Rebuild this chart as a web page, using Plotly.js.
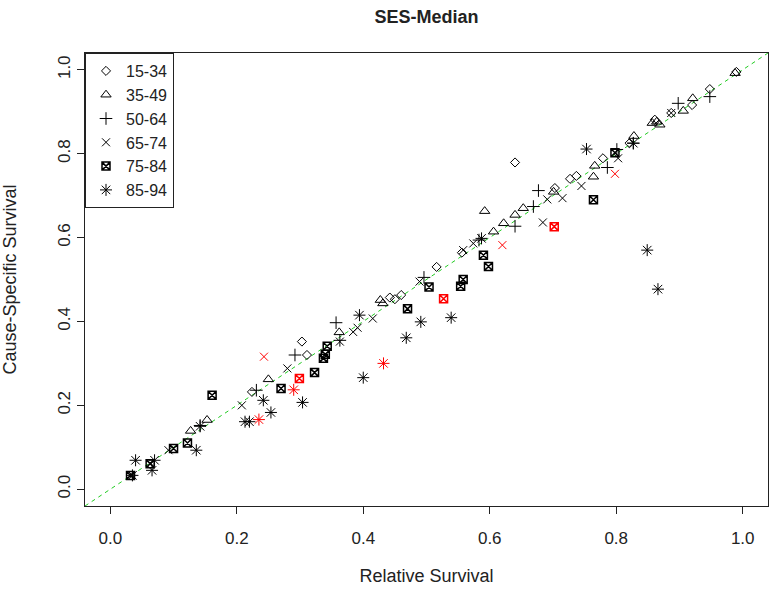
<!DOCTYPE html>
<html><head><meta charset="utf-8">
<script src="https://cdn.plot.ly/plotly-3.0.1.min.js"></script>
<style>html,body{margin:0;padding:0;background:#fff}</style>
</head><body><div id="chart" style="width:769px;height:592px"></div>
<script>
// Age groups (legend labels)
const ageGroups = ["15-34", "35-49", "50-64", "65-74", "75-84", "85-94"];

// Relative survival (x) and cause-specific survival (y) per age group
const rel_15_34 = [0.224, 0.303, 0.311, 0.442, 0.450, 0.460, 0.516, 0.556, 0.640, 0.703, 0.727, 0.737, 0.779, 0.821, 0.861, 0.887, 0.920, 0.948, 0.990];
const css_15_34 = [0.232, 0.352, 0.320, 0.457, 0.453, 0.463, 0.530, 0.564, 0.779, 0.718, 0.740, 0.747, 0.789, 0.825, 0.881, 0.897, 0.916, 0.954, 0.995];

const rel_35_49 = [0.127, 0.153, 0.250, 0.362, 0.427, 0.431, 0.592, 0.606, 0.622, 0.640, 0.653, 0.701, 0.764, 0.766, 0.828, 0.857, 0.864, 0.869, 0.906, 0.921, 0.988];
const css_35_49 = [0.139, 0.165, 0.262, 0.374, 0.451, 0.443, 0.663, 0.614, 0.634, 0.654, 0.670, 0.709, 0.745, 0.771, 0.842, 0.873, 0.876, 0.869, 0.902, 0.932, 0.992];

const rel_50_64 = [0.142, 0.231, 0.292, 0.357, 0.363, 0.496, 0.583, 0.640, 0.669, 0.677, 0.786, 0.801, 0.827, 0.898, 0.948];
const css_50_64 = [0.152, 0.236, 0.320, 0.397, 0.355, 0.505, 0.594, 0.627, 0.674, 0.712, 0.767, 0.810, 0.825, 0.920, 0.936];

const rel_65_74 = [0.092, 0.208, 0.280, 0.363, 0.384, 0.391, 0.415, 0.489, 0.558, 0.574, 0.684, 0.691, 0.715, 0.745, 0.803, 0.887];
const css_65_74 = [0.093, 0.200, 0.288, 0.352, 0.375, 0.385, 0.407, 0.495, 0.570, 0.586, 0.636, 0.691, 0.694, 0.723, 0.789, 0.897];
const rel_65_74_red = [0.243, 0.620, 0.798];
const css_65_74_red = [0.316, 0.582, 0.752];

const rel_75_84 = [0.032, 0.063, 0.100, 0.122, 0.161, 0.270, 0.323, 0.337, 0.340, 0.343, 0.470, 0.504, 0.554, 0.558, 0.590, 0.598, 0.764, 0.798];
const css_75_84 = [0.033, 0.061, 0.097, 0.110, 0.224, 0.240, 0.278, 0.312, 0.322, 0.341, 0.430, 0.482, 0.484, 0.500, 0.558, 0.531, 0.690, 0.802];
const rel_75_84_red = [0.299, 0.527, 0.702];
const css_75_84_red = [0.264, 0.454, 0.626];

const rel_85_94 = [0.035, 0.040, 0.066, 0.070, 0.136, 0.142, 0.213, 0.220, 0.242, 0.254, 0.304, 0.394, 0.400, 0.468, 0.491, 0.539, 0.587, 0.753, 0.827, 0.849, 0.866];
const css_85_94 = [0.033, 0.069, 0.045, 0.069, 0.093, 0.150, 0.161, 0.161, 0.212, 0.183, 0.207, 0.415, 0.266, 0.361, 0.399, 0.409, 0.598, 0.811, 0.825, 0.570, 0.477];
const rel_85_94_red = [0.235, 0.290, 0.432];
const css_85_94_red = [0.166, 0.237, 0.300];

const tickValues = [0, 0.2, 0.4, 0.6, 0.8, 1.0];

const FONT = "Liberation Sans, Arial, sans-serif";

function mk(name, xs, ys, symbol, size, color, showlegend) {
  return {
    type: "scatter", mode: "markers", name: name, legendgroup: name,
    x: xs, y: ys, showlegend: showlegend, hoverinfo: "x+y",
    marker: {symbol: symbol, size: size, color: color, line: {width: 1, color: color}}
  };
}

const traces = [
  mk(ageGroups[0], rel_15_34, css_15_34, "diamond-open", 7, "#000", true),
  mk(ageGroups[1], rel_35_49, css_35_49, "triangle-up-open", 9, "#000", true),
  mk(ageGroups[2], rel_50_64, css_50_64, "cross-thin-open", 9, "#000", true),
  mk(ageGroups[3], rel_65_74, css_65_74, "x-thin-open", 8, "#000", true),
  mk(ageGroups[4], rel_75_84, css_75_84, "square-x-open", 8, "#000", true),
  mk(ageGroups[5], rel_85_94, css_85_94, "asterisk-open", 10, "#000", true),
  mk(ageGroups[3], rel_65_74_red, css_65_74_red, "x-thin-open", 8, "#ff0000", false),
  mk(ageGroups[4], rel_75_84_red, css_75_84_red, "square-x-open", 8, "#ff0000", false),
  mk(ageGroups[5], rel_85_94_red, css_85_94_red, "asterisk-open", 10, "#ff0000", false)
];
traces[4].marker.line.width = 1.5;
traces[7].marker.line.width = 1.5;

const axisCommon = {
  range: [-0.04, 1.04], showgrid: false, zeroline: false,
  showline: true, mirror: true, linecolor: "#222", linewidth: 1,
  ticks: "outside", ticklen: 7, tickwidth: 1, tickcolor: "#222",
  tickvals: tickValues, tickformat: ".1f",
  tickfont: {family: FONT, size: 17, color: "#222"}
};

const layout = {
  width: 769, height: 592,
  margin: {l: 85, r: 1, t: 53, b: 86},
  paper_bgcolor: "#fff", plot_bgcolor: "#fff",
  font: {family: FONT, color: "#222"},
  title: {text: "<b>SES-Median</b>", font: {family: FONT, size: 18, color: "#222"},
          x: 0.5, xref: "paper", y: 1 - 17 / 592, yref: "container", yanchor: "middle"},
  xaxis: Object.assign({}, axisCommon, {
    ticklabelstandoff: 10,
    title: {text: "Relative Survival", font: {family: FONT, size: 18, color: "#222"}, standoff: 21}
  }),
  yaxis: Object.assign({}, axisCommon, {
    tickangle: -90,
    title: {text: "Cause-Specific Survival", font: {family: FONT, size: 18, color: "#222"}, standoff: 34}
  }),
  shapes: [{type: "line", xref: "x", yref: "y", x0: -0.04, y0: -0.04, x1: 1.04, y1: 1.04,
            line: {color: "#22cc22", width: 1, dash: "4px,4px"}, layer: "below"}],
  legend: {x: 0, y: 1, xanchor: "left", yanchor: "top", bgcolor: "#fff",
           bordercolor: "#222", borderwidth: 1, tracegroupgap: 0,
           font: {family: FONT, size: 16, color: "#222"}},
  showlegend: true
};

Plotly.newPlot("chart", traces, layout, {staticPlot: true});
</script>
</body></html>
